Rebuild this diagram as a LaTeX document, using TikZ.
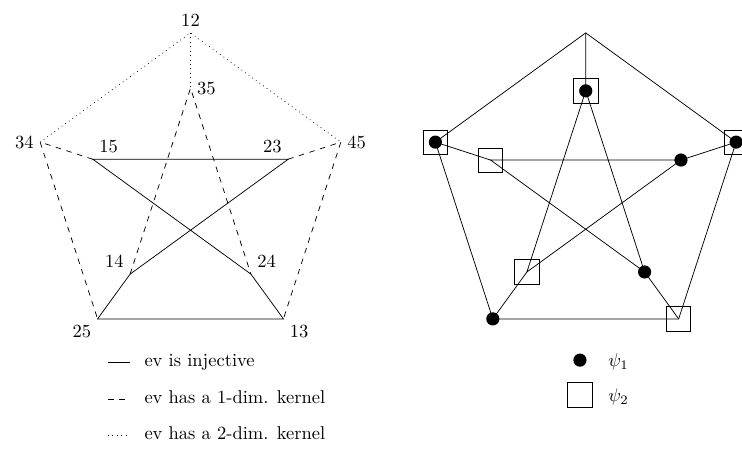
\documentclass[tikz,border=0pt]{standalone}
\usepackage{amsmath,amssymb}
\usepackage{tikz}
\usetikzlibrary{calc}

\begin{document}
\begin{tikzpicture}[
  dot/.style={circle,fill=black,inner sep=0pt,minimum size=0.25cm},
  sq/.style={draw,rectangle,inner sep=0pt,minimum size=0.46cm},
  legtext/.style={anchor=base west,inner sep=0pt}]
  \useasboundingbox (-3.615,-4.896) rectangle (10.465,3.624);
  % left graph: vertices named by their labels
  \coordinate[label=above:$12$] (a12) at (90:3);
  \coordinate[label=right:$45$] (a45) at (18:3);
  \coordinate[label=-50:$13$] (a13) at (306:3);
  \coordinate[label=-110:$25$] (a25) at (234:3);
  \coordinate[label=left:$34$] (a34) at (162:3);
  \coordinate[label=right:$35$] (a35) at (90:1.95);
  \coordinate[label=120:$23$] (a23) at (18:1.95);
  \coordinate[label=20:$24$] (a24) at (306:1.95);
  \coordinate[label=160:$14$] (a14) at (234:1.95);
  \coordinate[label=60:$15$] (a15) at (162:1.95);
  \draw[dotted] (a34) -- (a12) -- (a45);
  \draw[dotted] (a12) -- (a35);
  \draw[dashed] (a14) -- (a35) -- (a24);
  \draw[dashed] (a15) -- (a34) -- (a25);
  \draw[dashed] (a23) -- (a45) -- (a13);
  \draw (a15) -- (a23) -- (a14) -- (a25) -- (a13) -- (a24) -- cycle;
  % legend
  \coordinate (l1) at (-1.565,-3.25); \coordinate (r1) at (-1.148,-3.25);
  \coordinate (l2) at (-1.565,-3.95); \coordinate (r2) at (-1.148,-3.95);
  \coordinate (l3) at (-1.565,-4.64); \coordinate (r3) at (-1.148,-4.64);
  \draw (l1) -- (r1);
  \draw[dashed] (l2) -- (r2);
  \draw[dotted] (l3) -- (r3);
  \node[legtext] (t1) at (-0.88,-3.33) {ev is injective};
  \node[legtext] (t2) at (-0.88,-4.03) {ev has a 1-dim. kernel};
  \node[legtext] (t3) at (-0.88,-4.72) {ev has a 2-dim. kernel};

  % right graph
  \begin{scope}[xshift=7.5cm]
    \coordinate (b1) at (90:3);
    \coordinate (b2) at (18:3);
    \coordinate (b3) at (306:3);
    \coordinate (b4) at (234:3);
    \coordinate (b5) at (162:3);
    \coordinate (c1) at (90:1.9);
    \coordinate (c2) at (18:1.9);
    \coordinate (c3) at (306:1.9);
    \coordinate (c4) at (234:1.9);
    \coordinate (c5) at (162:1.9);
    \draw (b1) -- (b2) -- (b3) -- (b4) -- (b5) -- cycle;
    \draw (b1) -- (c1) (b2) -- (c2) (b3) -- (c3) (b4) -- (c4) (b5) -- (c5);
    \draw (c1) -- (c3) -- (c5) -- (c2) -- (c4) -- cycle;
    \node[sq] (sb5) at (b5) {};
    \node[sq] (sb2) at (b2) {};
    \node[sq] (sb3) at (b3) {};
    \node[sq] (sc1) at (c1) {};
    \node[sq] (sc5) at (c5) {};
    \node[sq] (sc4) at (c4) {};
    \node[dot] (db5) at (b5) {};
    \node[dot] (db2) at (b2) {};
    \node[dot] (db4) at (b4) {};
    \node[dot] (dc1) at (c1) {};
    \node[dot] (dc2) at (c2) {};
    \node[dot] (dc3) at (c3) {};
  \end{scope}
  % right legend
  \node[dot] (k1) at (7.39,-3.21) {};
  \node[sq] (k2) at (7.39,-3.87) {};
  \node[anchor=west,inner sep=0pt] (p1) at (7.92,-3.24) {$\psi_1$};
  \node[anchor=west,inner sep=0pt] (p2) at (7.92,-3.91) {$\psi_2$};
\end{tikzpicture}
\end{document}
